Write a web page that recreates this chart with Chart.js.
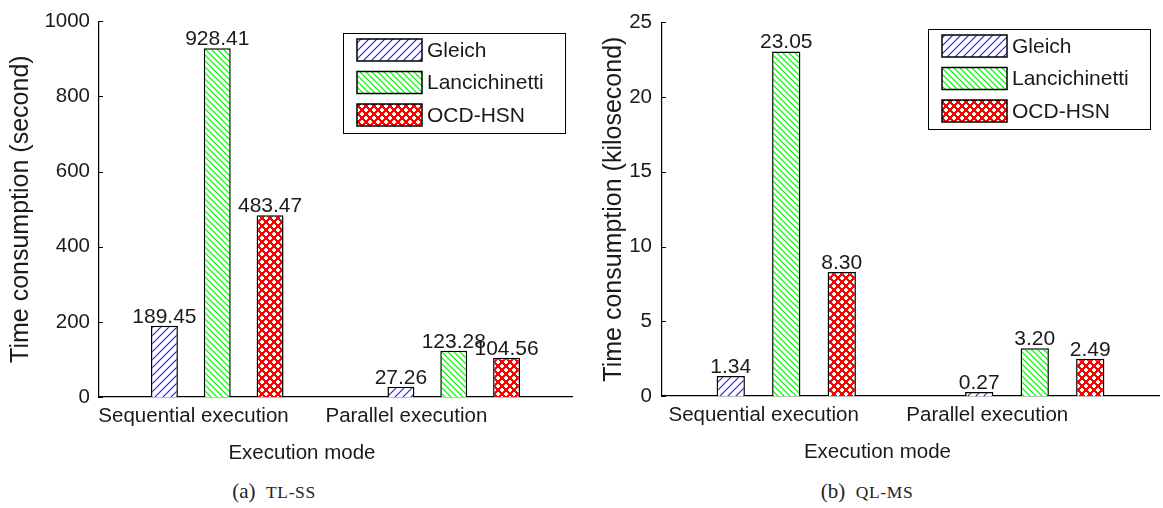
<!DOCTYPE html>
<html>
<head>
<meta charset="utf-8">
<script src="https://cdn.jsdelivr.net/npm/chart.js@4.4.0/dist/chart.umd.min.js"></script>
<style>
  body { margin: 0; background: #fff; width: 1163px; height: 508px; position: relative; overflow: hidden; }
  .panel { position: absolute; top: 0; height: 470px; }
  #left { left: 0; width: 580px; }
  #right { left: 580px; width: 583px; }
  .cap { position: absolute; top: 479px; width: 220px; text-align: center; font-family: "Liberation Serif", serif; font-size: 21px; color: #222; }
  .cap span { font-size: 17.5px; letter-spacing: 0.6px; }
</style>
</head>
<body>
<div class="panel" id="left"><canvas id="tlss"></canvas></div>
<div class="panel" id="right"><canvas id="qlms"></canvas></div>
<div class="cap" style="left:164px">(a)&nbsp; <span>TL-SS</span></div>
<div class="cap" style="left:757px">(b)&nbsp; <span>QL-MS</span></div>
<script>
// data
const categories = ['Sequential execution', 'Parallel execution'];
const seriesNames = ['Gleich', 'Lancichinetti', 'OCD-HSN'];

const tlssGleich = [189.45, 27.26];
const tlssLanc = [928.41, 123.28];
const tlssOcd = [483.47, 104.56];
const tlssTicks = [0, 200, 400, 600, 800, 1000];

const qlmsGleich = [1.34, 0.27];
const qlmsLanc = [23.05, 3.20];
const qlmsOcd = [8.30, 2.49];
const qlmsTicks = [0, 5, 10, 15, 20, 25];

const FONT = '"Liberation Sans", Arial, sans-serif';
const TXT = '#1a1a1a';

// hatch fills like the matlab hatchfill patterns
function makePattern(kind) {
  const c = document.createElement('canvas');
  const g = c.getContext('2d');
  if (kind === 'fwd') {
    c.width = c.height = 8;
    g.fillStyle = '#fff'; g.fillRect(0, 0, 8, 8);
    g.strokeStyle = '#1a1aff'; g.lineWidth = 1.1;
    g.beginPath();
    g.moveTo(-1, 9); g.lineTo(9, -1);
    g.moveTo(-1, 1); g.lineTo(1, -1);
    g.moveTo(7, 9); g.lineTo(9, 7);
    g.stroke();
  } else if (kind === 'back') {
    c.width = c.height = 6;
    g.fillStyle = '#fff'; g.fillRect(0, 0, 6, 6);
    g.strokeStyle = '#00e600'; g.lineWidth = 1.1;
    g.beginPath();
    g.moveTo(-1, -1); g.lineTo(7, 7);
    g.moveTo(5, -1); g.lineTo(7, 1);
    g.moveTo(-1, 5); g.lineTo(1, 7);
    g.stroke();
  } else {
    // red net with round white holes on a diagonal lattice
    c.width = c.height = 8;
    g.fillStyle = '#ff0000'; g.fillRect(0, 0, 8, 8);
    g.fillStyle = '#fff';
    [[0, 0], [4, 4]].forEach(([hx, hy]) => {
      g.fillRect(hx + 1, hy, 2, 4);
      g.fillRect(hx, hy + 1, 4, 2);
    });
  }
  return g.createPattern(c, 'repeat');
}

const fills = [makePattern('fwd'), makePattern('back'), makePattern('cross')];

// value labels on top of each bar
const valueLabels = {
  id: 'valueLabels',
  afterDatasetsDraw(chart) {
    const ctx = chart.ctx;
    ctx.save();
    ctx.font = '21px ' + FONT;
    ctx.fillStyle = TXT;
    ctx.textAlign = 'center';
    ctx.textBaseline = 'alphabetic';
    chart.data.datasets.forEach((ds, i) => {
      chart.getDatasetMeta(i).data.forEach((bar, j) => {
        ctx.fillText(ds.data[j].toFixed(2), bar.x, bar.y - 3);
      });
    });
    ctx.restore();
  }
};

// inward tick marks on the y axis, category labels and x title
const axisExtras = {
  id: 'axisExtras',
  afterDraw(chart, args, opts) {
    const ctx = chart.ctx;
    const y = chart.scales.y, x = chart.scales.x;
    const area = chart.chartArea;
    ctx.save();
    ctx.strokeStyle = '#000';
    ctx.lineWidth = 1;
    y.ticks.forEach(t => {
      const py = Math.round(y.getPixelForValue(t.value)) + 0.5;
      ctx.beginPath();
      ctx.moveTo(area.left, py);
      ctx.lineTo(area.left + 4, py);
      ctx.stroke();
    });
    // the text in the original sits a bit left of the bars
    const squeeze = 0.9;
    ctx.fillStyle = TXT;
    ctx.textAlign = 'center';
    ctx.textBaseline = 'middle';
    ctx.font = '20.5px ' + FONT;
    categories.forEach((c, i) => {
      ctx.fillText(c, x.getPixelForValue(i) * squeeze - 2, area.bottom + 19);
    });
    ctx.font = '20.5px ' + FONT;
    ctx.fillText(opts.xTitle, (area.left + area.right) / 2 * squeeze, area.bottom + 56);
    ctx.restore();
  }
};

// boxed legend inside the plot, top right
const boxLegend = {
  id: 'boxLegend',
  afterDraw(chart, args, opts) {
    const ctx = chart.ctx;
    const bx = opts.x, by = opts.y, bw = 222, bh = 100;
    ctx.save();
    ctx.fillStyle = '#fff';
    ctx.fillRect(bx, by, bw, bh);
    ctx.strokeStyle = '#000';
    ctx.lineWidth = 1;
    ctx.strokeRect(bx + 0.5, by + 0.5, bw, bh);
    ctx.font = '21px ' + FONT;
    ctx.textBaseline = 'middle';
    ctx.textAlign = 'left';
    chart.data.datasets.forEach((ds, i) => {
      const top = by + 6 + i * 32.5;
      ctx.fillStyle = ds.backgroundColor;
      ctx.fillRect(bx + 14, top, 65, 22);
      ctx.lineWidth = 1.5;
      ctx.strokeRect(bx + 14, top, 65, 22);
      ctx.fillStyle = TXT;
      ctx.fillText(ds.label, bx + 84, top + 12);
    });
    ctx.restore();
  }
};

function makeChart(id, series, ticks, yTitle, axisWidth, tickPad, titlePad, padTop, padRight, xHeight, legendAt) {
  new Chart(document.getElementById(id), {
    type: 'bar',
    data: {
      labels: categories,
      datasets: series.map((vals, i) => ({
        label: seriesNames[i],
        data: vals,
        backgroundColor: fills[i],
        borderColor: '#000',
        borderWidth: 1.5,
        categoryPercentage: 0.67,
        barPercentage: 0.51
      }))
    },
    options: {
      responsive: true,
      maintainAspectRatio: false,
      animation: false,
      layout: { padding: { top: padTop, right: padRight, left: 0, bottom: 0 } },
      plugins: {
        legend: { display: false },
        tooltip: { enabled: false },
        axisExtras: { xTitle: 'Execution mode' },
        boxLegend: legendAt
      },
      scales: {
        x: {
          grid: { display: false },
          border: { color: '#000', width: 1.2 },
          ticks: { display: false },
          afterFit: s => { s.height = xHeight; }
        },
        y: {
          min: ticks[0],
          max: ticks[ticks.length - 1],
          afterBuildTicks: s => { s.ticks = ticks.map(v => ({ value: v })); },
          grid: { display: false, drawTicks: false },
          border: { color: '#000', width: 1.2 },
          ticks: {
            color: TXT, font: { family: FONT, size: 20.5 }, padding: tickPad,
            callback: v => String(v)
          },
          title: {
            display: true, text: yTitle, color: TXT,
            font: { family: FONT, size: 25 }, padding: { top: titlePad, bottom: 0 }
          },
          afterFit: s => { s.width = axisWidth; }
        }
      }
    },
    plugins: [valueLabels, axisExtras, boxLegend]
  });
}

makeChart('tlss', [tlssGleich, tlssLanc, tlssOcd], tlssTicks,
  'Time consumption (second)', 99, 9, 6, 20, 8, 73, { x: 343, y: 33 });
makeChart('qlms', [qlmsGleich, qlmsLanc, qlmsOcd], qlmsTicks,
  'Time consumption (kilosecond)', 82, 10, 19, 18, 4, 74, { x: 348, y: 29 });
</script>
</body>
</html>
